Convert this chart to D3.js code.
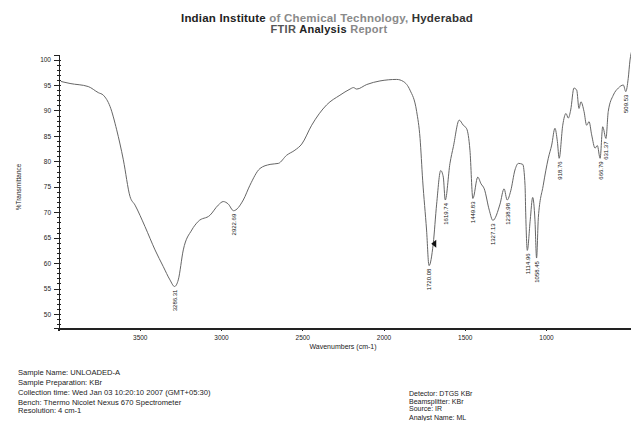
<!DOCTYPE html>
<html lang="en">
<head>
    <meta charset="UTF-8">
    <title>FTIR Analysis Report</title>
<style>
    body { margin:0; background:#fff; }
    svg { display:block; font-family: "Liberation Sans", Arial, sans-serif; }
    .axis path, .axis line { fill:none; stroke:#222; shape-rendering:crispEdges; }
    .axis text { font-size:6.5px; fill:#222; }
    .info { font-size:7.6px; fill:#222; }
    .info2 { font-size:7px; fill:#222; }
</style>
</head>
<body>
<script src="https://cdn.jsdelivr.net/npm/d3@7"></script>
<script type="text/javascript">
    // spectrum (wavenumber cm-1, %T)
    var wavenumbers = [3985,3929,3817,3755,3724,3683,3642,3601,3560,3529,3468,3406,3355,3314,3286,3263,3232,3180,3140,3068,3017,2986,2955,2923,2863,2822,2760,2698,2647,2596,2545,2503,2442,2350,2268,2206,2185,2165,2103,2022,1919,1878,1837,1796,1775,1759,1735,1720,1694,1673,1648,1632,1620,1591,1570,1534,1509,1488,1468,1450,1420,1400,1380,1349,1327,1283,1258,1239,1217,1191,1170,1143,1129,1125,1115,1097,1082,1068,1058,1047,1017,986,965,945,930,919,897,877,863,848,828,811,797,785,766,750,735,719,698,684,667,651,631,617,586,555,524,509,494,483,470];
    var transmittance = [95.7,95.3,94.7,93.5,93.0,90.8,86.2,80.3,73.1,71.4,67.2,62.6,59.3,56.7,55.4,56.7,62.6,66.5,68.2,69.4,71.4,72.1,71.6,70.3,72.4,75.3,78.6,79.4,79.6,81.2,82.2,83.4,87.1,91.1,93.0,94.2,94.5,94.2,95.1,95.8,96.1,95.7,94.0,89.8,84.5,76.3,66.5,59.5,63.8,71.6,78.2,76.9,72.4,79.6,82.9,88.1,87.1,86.4,82.2,72.7,76.9,75.6,74.6,70.4,68.4,71.6,74.6,72.4,74.2,78.3,79.6,79.4,75.3,70.0,62.5,68.5,72.9,68.5,61.0,69.0,75.3,80.6,83.2,86.5,83.9,80.6,87.1,89.4,88.5,90.1,94.4,94.0,90.4,91.7,89.8,87.1,87.8,85.2,82.6,83.1,80.6,86.8,84.5,89.8,93.0,94.4,95.0,93.7,96.3,99.9,102];

    var peakLabels = ["3286.31","2922.69","1720.08","1619.74","1449.83","1327.13","1238.98","1114.96","1058.45","918.76","666.79","631.37","509.53"];
    var peakValues = [55.4,70.3,59.5,72.4,72.7,68.4,72.4,62.5,61.0,80.6,80.6,84.5,93.7];

    var xTicks = [3500,3000,2500,2000,1500,1000];
    var yTicks = [50,55,60,65,70,75,80,85,90,95,100];

    var leftInfo = ["Sample Name: UNLOADED-A","Sample Preparation: KBr","Collection time: Wed Jan 03 10:20:10 2007 (GMT+05:30)","Bench: Thermo Nicolet Nexus 670 Spectrometer","Resolution: 4 cm-1"];
    var rightInfo = ["Detector: DTGS KBr","Beamsplitter: KBr","Source: IR","Analyst Name: ML"];

    var w = 631;
    var h = 421;

    var svg = d3.select("body").append("svg").attr("width",w).attr("height",h);
    svg.append("rect").attr("width",w).attr("height",h).attr("fill","#fff");

    var xScale = d3.scaleLinear().domain([4000,400]).range([58.5,643.5]);
    var yScale = d3.scaleLinear().domain([47.25,100.9]).range([328,55]);

    // title
    var title = svg.append("text").attr("x",327).attr("y",22).attr("text-anchor","middle")
        .attr("font-size","11.5px").attr("font-weight","bold").attr("letter-spacing","0.2px");
    title.append("tspan").attr("fill","#222").text("Indian Institute ");
    title.append("tspan").attr("fill","#8a8a8a").text("of Chemical Technology, ");
    title.append("tspan").attr("fill","#333").text("Hyderabad");
    var sub = svg.append("text").attr("x",329).attr("y",33).attr("text-anchor","middle")
        .attr("font-size","11px").attr("font-weight","bold").attr("letter-spacing","0.3px");
    sub.append("tspan").attr("fill","#555").text("FTIR ");
    sub.append("tspan").attr("fill","#222").text("Analysis ");
    sub.append("tspan").attr("fill","#888").text("Report");

    // y axis (dense minor ticks like the scan)
    var yMinor = d3.range(48,101,1);
    svg.append("g").attr("class","axis").attr("transform","translate(59,0)")
        .call(d3.axisLeft(yScale).tickValues(yMinor).tickSize(2.5).tickFormat(""));
    svg.append("g").attr("class","axis").attr("transform","translate(59,0)")
        .call(d3.axisRight(yScale).tickValues(yMinor).tickSize(1.5).tickFormat(""))
        .select(".domain").remove();
    var yAxis = svg.append("g").attr("class","axis").attr("transform","translate(59,0)")
        .call(d3.axisLeft(yScale).tickValues(yTicks).tickSize(5).tickPadding(3));
    yAxis.select(".domain").attr("stroke-width",1.6);

    // x axis
    var xAxis = svg.append("g").attr("class","axis").attr("transform","translate(0,328)")
        .call(d3.axisBottom(xScale).tickValues(xTicks).tickSize(3).tickPadding(4).tickFormat(d3.format("d")));
    xAxis.select(".domain").attr("stroke-width",2).attr("stroke","#333");
    svg.append("g").attr("class","axis").attr("transform","translate(0,328)")
        .call(d3.axisTop(xScale).tickValues(d3.range(3900,400,100)).tickSize(2).tickFormat(""))
        .select(".domain").remove();

    svg.append("text").attr("transform","translate(21,187) rotate(-90)").attr("text-anchor","middle")
        .attr("font-size","6.5px").attr("fill","#222").text("%Transmittance");
    svg.append("text").attr("x",343).attr("y",348.5).attr("text-anchor","middle")
        .attr("font-size","7px").attr("fill","#222").text("Wavenumbers (cm-1)");

    // spectrum
    var points = wavenumbers.map(function (d,i) { return [d, transmittance[i]]; });
    var line = d3.line()
        .x(function (d) { return xScale(d[0]); })
        .y(function (d) { return yScale(d[1]); })
        .curve(d3.curveMonotoneX);
    svg.append("path").datum(points).attr("d",line)
        .attr("fill","none").attr("stroke","#666").attr("stroke-width",1);

    // peak cursor near 1720 band
    svg.append("path")
        .attr("transform","translate("+xScale(1694)+","+yScale(63.8)+")")
        .attr("d","M-2,0 L3,-4 L3,4 Z").attr("fill","#111");

    // peak labels, vertical
    svg.selectAll(".peak").data(peakLabels).enter().append("text")
        .attr("class","peak")
        .attr("transform",function (d,i) {
            return "translate("+(xScale(+d)+2.5)+","+(yScale(peakValues[i])+3)+") rotate(-90)";
        })
        .attr("text-anchor","end")
        .attr("font-size","6px").attr("fill","#111")
        .text(function (d) { return d; });

    // report info
    svg.selectAll(".left").data(leftInfo).enter().append("text")
        .attr("class","info").attr("x",18)
        .attr("y",function (d,i) { return [375,385,395,404.5,413][i]; })
        .text(function (d) { return d; });
    svg.selectAll(".right").data(rightInfo).enter().append("text")
        .attr("class","info2").attr("x",409)
        .attr("y",function (d,i) { return [396,403.5,411,419.5][i]; })
        .text(function (d) { return d; });
</script>
</body>
</html>
